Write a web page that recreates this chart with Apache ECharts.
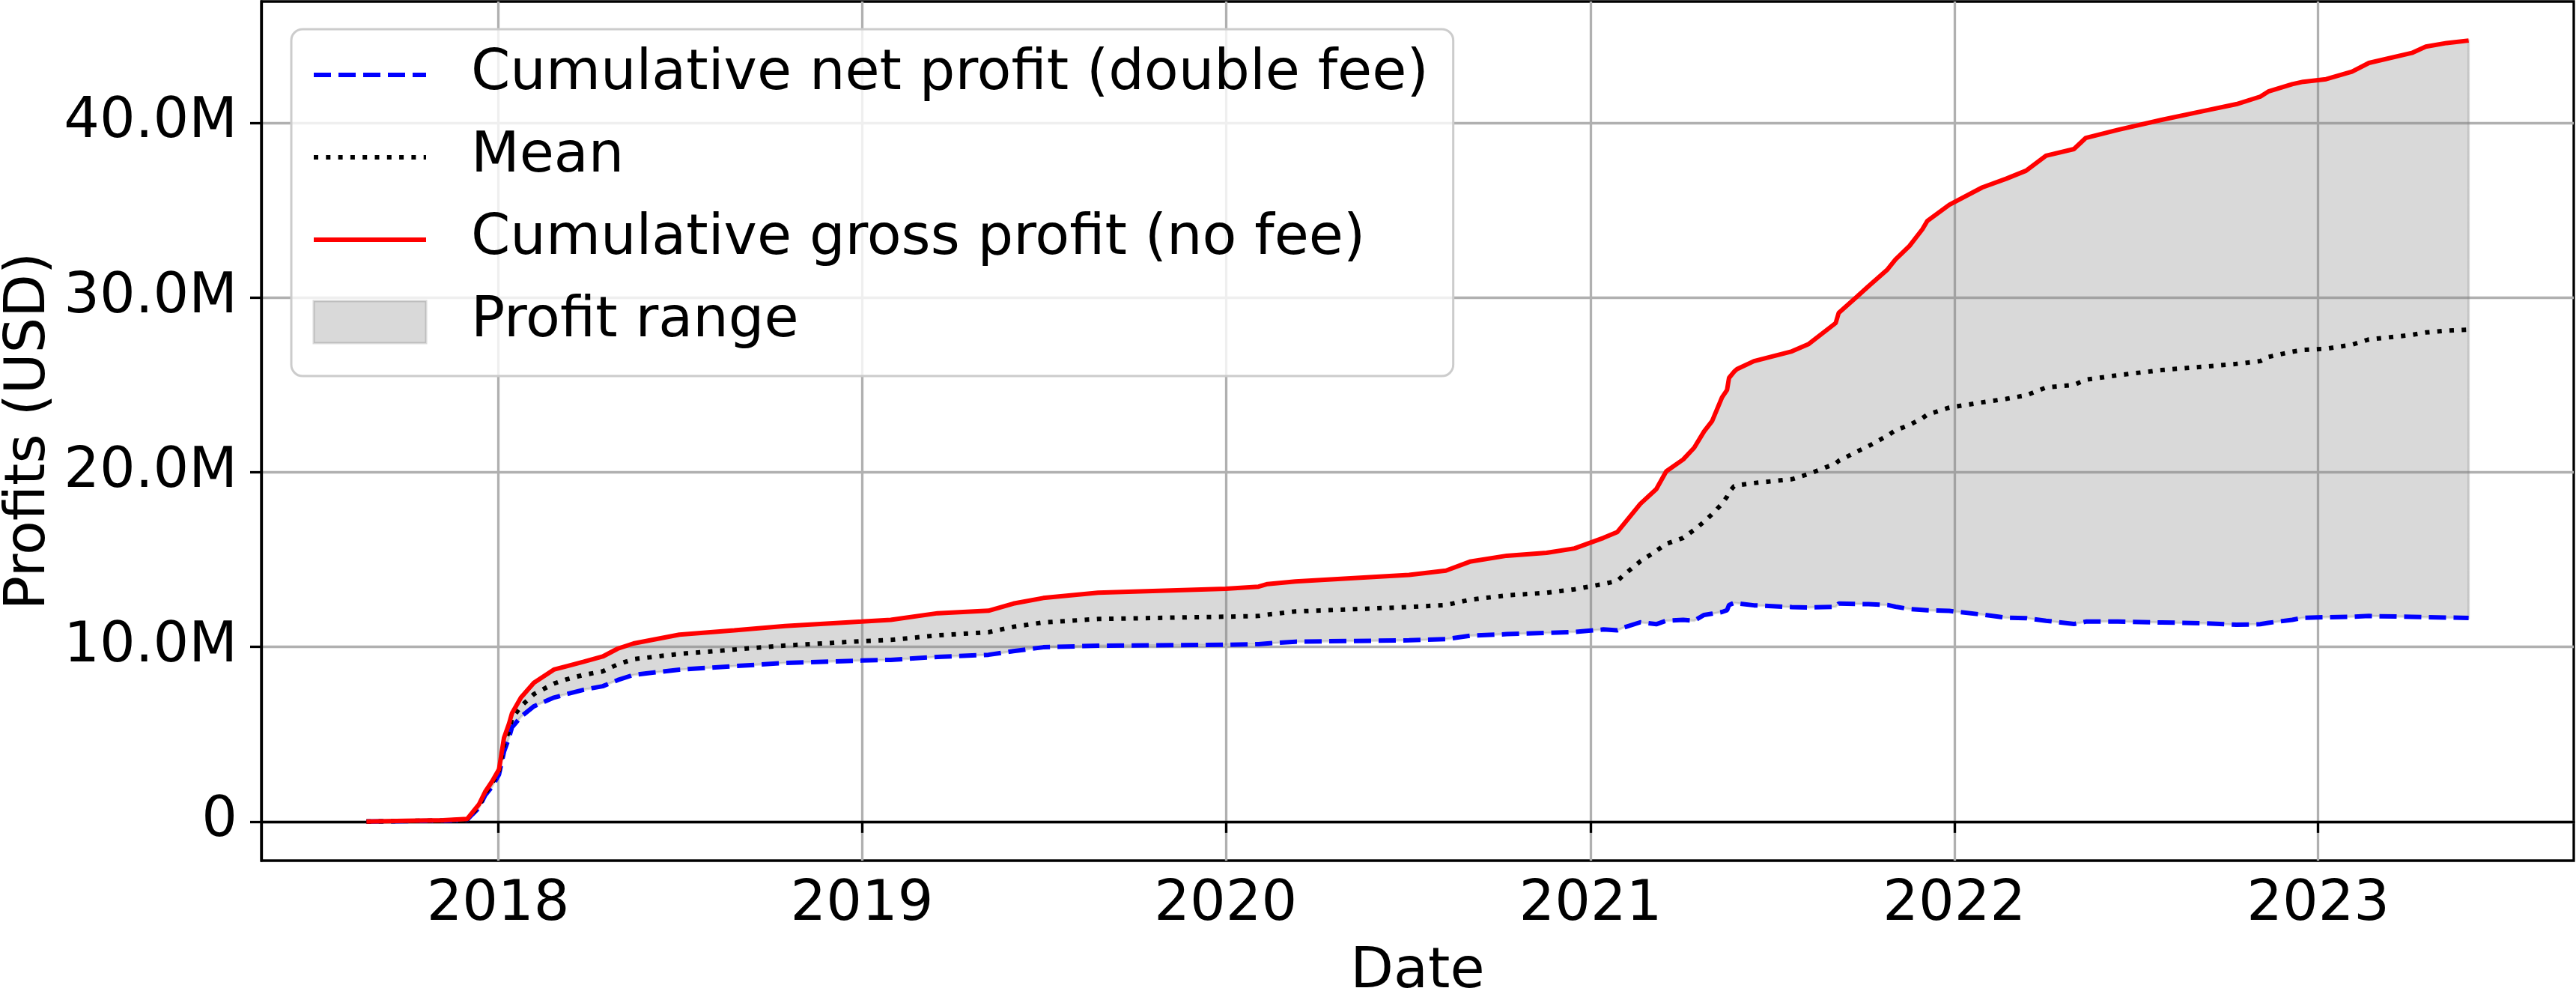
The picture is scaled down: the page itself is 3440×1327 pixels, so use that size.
<!DOCTYPE html>
<html>
<head>
<meta charset="utf-8">
<style>
  html, body { margin: 0; padding: 0; background: #fff; }
  #main { width: 3440px; height: 1327px; }
</style>
<script src="https://cdn.jsdelivr.net/npm/echarts@6/dist/echarts.min.js"></script>
</head>
<body>
<div id="main"></div>
<script>
// sample dates
const dates = [
  '2017-08-22', '2017-10-01', '2017-11-07', '2017-12-01', '2017-12-06', '2017-12-13', '2017-12-19', '2017-12-26', '2018-01-02', '2018-01-07',
  '2018-01-12', '2018-01-15', '2018-01-24', '2018-02-06', '2018-02-26', '2018-03-11', '2018-03-28', '2018-04-16', '2018-05-01', '2018-05-17',
  '2018-07-02', '2018-08-26', '2018-10-16', '2019-01-01', '2019-01-30', '2019-03-18', '2019-05-08', '2019-06-02', '2019-07-02', '2019-08-26',
  '2020-01-01', '2020-02-03', '2020-02-12', '2020-03-11', '2020-07-03', '2020-08-09', '2020-09-02', '2020-10-09', '2020-11-18', '2020-12-16',
  '2021-01-14', '2021-01-28', '2021-02-03', '2021-02-20', '2021-03-08', '2021-03-18', '2021-04-04', '2021-04-15', '2021-04-25', '2021-05-03',
  '2021-05-13', '2021-05-18', '2021-05-20', '2021-05-25', '2021-05-28', '2021-06-14', '2021-07-22', '2021-08-08', '2021-09-04', '2021-09-07',
  '2021-09-26', '2021-10-07', '2021-10-26', '2021-11-03', '2021-11-17', '2021-11-30', '2021-12-05', '2021-12-27', '2022-01-29', '2022-02-22',
  '2022-03-14', '2022-04-03', '2022-05-01', '2022-05-13', '2022-06-14', '2022-07-28', '2022-09-10', '2022-10-11', '2022-11-04', '2022-11-12',
  '2022-12-06', '2022-12-17', '2023-01-09', '2023-02-04', '2023-02-21', '2023-04-05', '2023-04-19', '2023-05-10', '2023-06-01'
];

// profits in millions of USD
const netProfit = [
  0, 0.03, 0.05, 0.1, 0.4, 0.8, 1.5, 2.0, 2.7, 4.0,
  4.8, 5.4, 6.0, 6.6, 7.1, 7.3, 7.55, 7.75, 8.1, 8.4,
  8.7, 8.9, 9.08, 9.22, 9.26, 9.43, 9.55, 9.76, 9.98, 10.07,
  10.12, 10.16, 10.2, 10.3, 10.38, 10.45, 10.64, 10.73, 10.8, 10.86,
  11.0, 10.95, 11.1, 11.41, 11.3, 11.5, 11.55, 11.5, 11.83, 11.9,
  12.0, 12.1, 12.4, 12.52, 12.5, 12.38, 12.28, 12.26, 12.3, 12.48,
  12.46, 12.45, 12.4, 12.3, 12.17, 12.12, 12.1, 12.06, 11.85, 11.67,
  11.65, 11.5, 11.31, 11.45, 11.45, 11.4, 11.35, 11.27, 11.3, 11.38,
  11.55, 11.67, 11.7, 11.73, 11.77, 11.72, 11.7, 11.68, 11.66
];
const meanProfit = [
  0, 0.04, 0.06, 0.12, 0.45, 0.9, 1.6, 2.2, 2.9, 4.4,
  5.2, 5.9, 6.6, 7.3, 7.9, 8.15, 8.4, 8.6, 9.0, 9.3,
  9.6, 9.85, 10.08, 10.33, 10.4, 10.66, 10.84, 11.15, 11.4, 11.6,
  11.73, 11.77, 11.85, 12.03, 12.28, 12.4, 12.7, 12.95, 13.1, 13.3,
  13.6, 13.78, 14.1, 14.9, 15.5, 15.9, 16.24, 16.7, 17.17, 17.6,
  18.2, 18.6, 18.86, 19.2, 19.25, 19.38, 19.6, 19.9, 20.5, 20.65,
  21.2, 21.5, 22.1, 22.4, 22.7, 23.1, 23.3, 23.7, 24.0, 24.2,
  24.4, 24.85, 25.0, 25.3, 25.55, 25.85, 26.05, 26.2, 26.36, 26.6,
  26.9, 27.0, 27.07, 27.3, 27.6, 27.86, 28.0, 28.1, 28.16
];
const grossProfit = [
  0, 0.05, 0.08, 0.15, 0.5, 1.0, 1.7, 2.3, 3.0, 4.8,
  5.6, 6.2, 7.1, 7.95, 8.7, 8.9, 9.15, 9.45, 9.9, 10.2,
  10.7, 10.95, 11.2, 11.45, 11.55, 11.93, 12.07, 12.48, 12.8, 13.1,
  13.33, 13.45, 13.6, 13.75, 14.12, 14.37, 14.88, 15.22, 15.39, 15.64,
  16.24, 16.58, 17.0, 18.19, 19.03, 20.05, 20.73, 21.4, 22.34, 22.93,
  24.29, 24.71, 25.4, 25.75, 25.9, 26.36, 26.92, 27.34, 28.54, 29.12,
  30.08, 30.65, 31.61, 32.18, 32.95, 33.91, 34.39, 35.31, 36.3, 36.8,
  37.26, 38.12, 38.5, 39.14, 39.6, 40.17, 40.7, 41.07, 41.5, 41.79,
  42.21, 42.35, 42.5, 42.93, 43.43, 44.0, 44.36, 44.57, 44.71
];

// tick labels
const yearTicks = [2018, 2019, 2020, 2021, 2022, 2023];
const profitTicks = [0, 10, 20, 30, 40];

const NET = 'Cumulative net profit (double fee)';
const MEAN = 'Mean';
const GROSS = 'Cumulative gross profit (no fee)';
const RANGE = 'Profit range';

const FONT = 'DejaVu Sans';
const bandColor = 'rgba(128,128,128,0.3)';

const times = dates.map(d => Date.parse(d));
const pairs = vals => times.map((t, i) => [t, vals[i]]);

// matplotlib-like 5% margins
const tPad = (times[times.length - 1] - times[0]) * 0.05;
const all = netProfit.concat(meanProfit, grossProfit);
const yLo = Math.min.apply(null, all), yHi = Math.max.apply(null, all);
const yPad = (yHi - yLo) * 0.05;

var myChart = echarts.init(document.getElementById('main'), null, {renderer: 'canvas'});

let option = {
  animation: false,
  backgroundColor: '#fff',
  grid: {
    left: 349, right: 3, top: 2, bottom: 178,
    show: true, borderColor: '#000', borderWidth: 3.3,
    backgroundColor: 'transparent',
    outerBoundsMode: 'none'
  },
  legend: {
    orient: 'vertical', left: 389, top: 39,
    padding: [21, 33, 32, 27],
    itemWidth: 150, itemHeight: 56, itemGap: 30,
    backgroundColor: 'rgba(255,255,255,0.8)',
    borderColor: '#cccccc', borderWidth: 3, borderRadius: 15,
    selectedMode: false,
    textStyle: {fontFamily: FONT, fontSize: 75, color: '#000', lineHeight: 80, padding: [0, 0, 0, 55]},
    data: [
      {name: NET, itemStyle: {opacity: 0}, lineStyle: {color: '#0000ff', width: 6, type: [23, 10]}},
      {name: MEAN, itemStyle: {opacity: 0}, lineStyle: {color: '#000', width: 6, type: [6, 10.3]}},
      {name: GROSS, itemStyle: {opacity: 0}, lineStyle: {color: '#ff0000', width: 6, type: 'solid'}},
      {name: RANGE, icon: 'rect', itemStyle: {color: bandColor, borderColor: bandColor, borderWidth: 3}}
    ]
  },
  xAxis: {
    type: 'value',
    min: times[0] - tPad,
    max: times[times.length - 1] + tPad,
    name: 'Date', nameLocation: 'middle', nameGap: 112, nameMoveOverlap: false,
    nameTextStyle: {fontFamily: FONT, fontSize: 75, color: '#000'},
    axisLine: {show: true, lineStyle: {color: '#000', width: 3.3}},
    axisTick: {show: true, length: 15, lineStyle: {color: '#000', width: 3.3},
      customValues: yearTicks.map(y => Date.UTC(y, 0, 1))},
    axisLabel: {fontFamily: FONT, fontSize: 75, color: '#000', margin: 22,
      customValues: yearTicks.map(y => Date.UTC(y, 0, 1)),
      formatter: v => String(new Date(v).getUTCFullYear())},
    splitLine: {show: true, lineStyle: {color: '#b0b0b0', width: 3.3}}
  },
  yAxis: {
    type: 'value',
    min: yLo - yPad, max: yHi + yPad,
    name: 'Profits (USD)', nameLocation: 'middle', nameGap: 272, nameRotate: 90, nameMoveOverlap: false,
    nameTextStyle: {fontFamily: FONT, fontSize: 75, color: '#000'},
    axisLine: {show: true, lineStyle: {color: '#000', width: 3.3}},
    axisTick: {show: true, length: 15, lineStyle: {color: '#000', width: 3.3}, customValues: profitTicks},
    axisLabel: {fontFamily: FONT, fontSize: 75, color: '#000', margin: 32,
      customValues: profitTicks,
      formatter: v => v === 0 ? '0' : v.toFixed(1) + 'M'},
    splitLine: {show: true, lineStyle: {color: '#b0b0b0', width: 3.3}}
  },
  series: [
    {
      // shaded band between net and gross profit
      name: RANGE, type: 'custom', silent: true, z: 1,
      itemStyle: {color: bandColor},
      data: [[times[0], 0]],
      renderItem: function (params, api) {
        const upper = times.map((t, i) => api.coord([t, grossProfit[i]]));
        const lower = times.map((t, i) => api.coord([t, netProfit[i]])).reverse();
        return {
          type: 'polygon',
          shape: {points: upper.concat(lower)},
          style: {fill: bandColor, stroke: bandColor, lineWidth: 3}
        };
      }
    },
    {
      name: NET, type: 'line', symbol: 'none', color: '#0000ff',
      lineStyle: {color: '#0000ff', width: 6, type: [23, 10]},
      data: pairs(netProfit)
    },
    {
      name: MEAN, type: 'line', symbol: 'none', color: '#000',
      lineStyle: {color: '#000', width: 6, type: [6, 10.3]},
      data: pairs(meanProfit)
    },
    {
      name: GROSS, type: 'line', symbol: 'none', color: '#ff0000',
      lineStyle: {color: '#ff0000', width: 6},
      data: pairs(grossProfit)
    }
  ]
};

myChart.setOption(option, true);
</script>
</body>
</html>
